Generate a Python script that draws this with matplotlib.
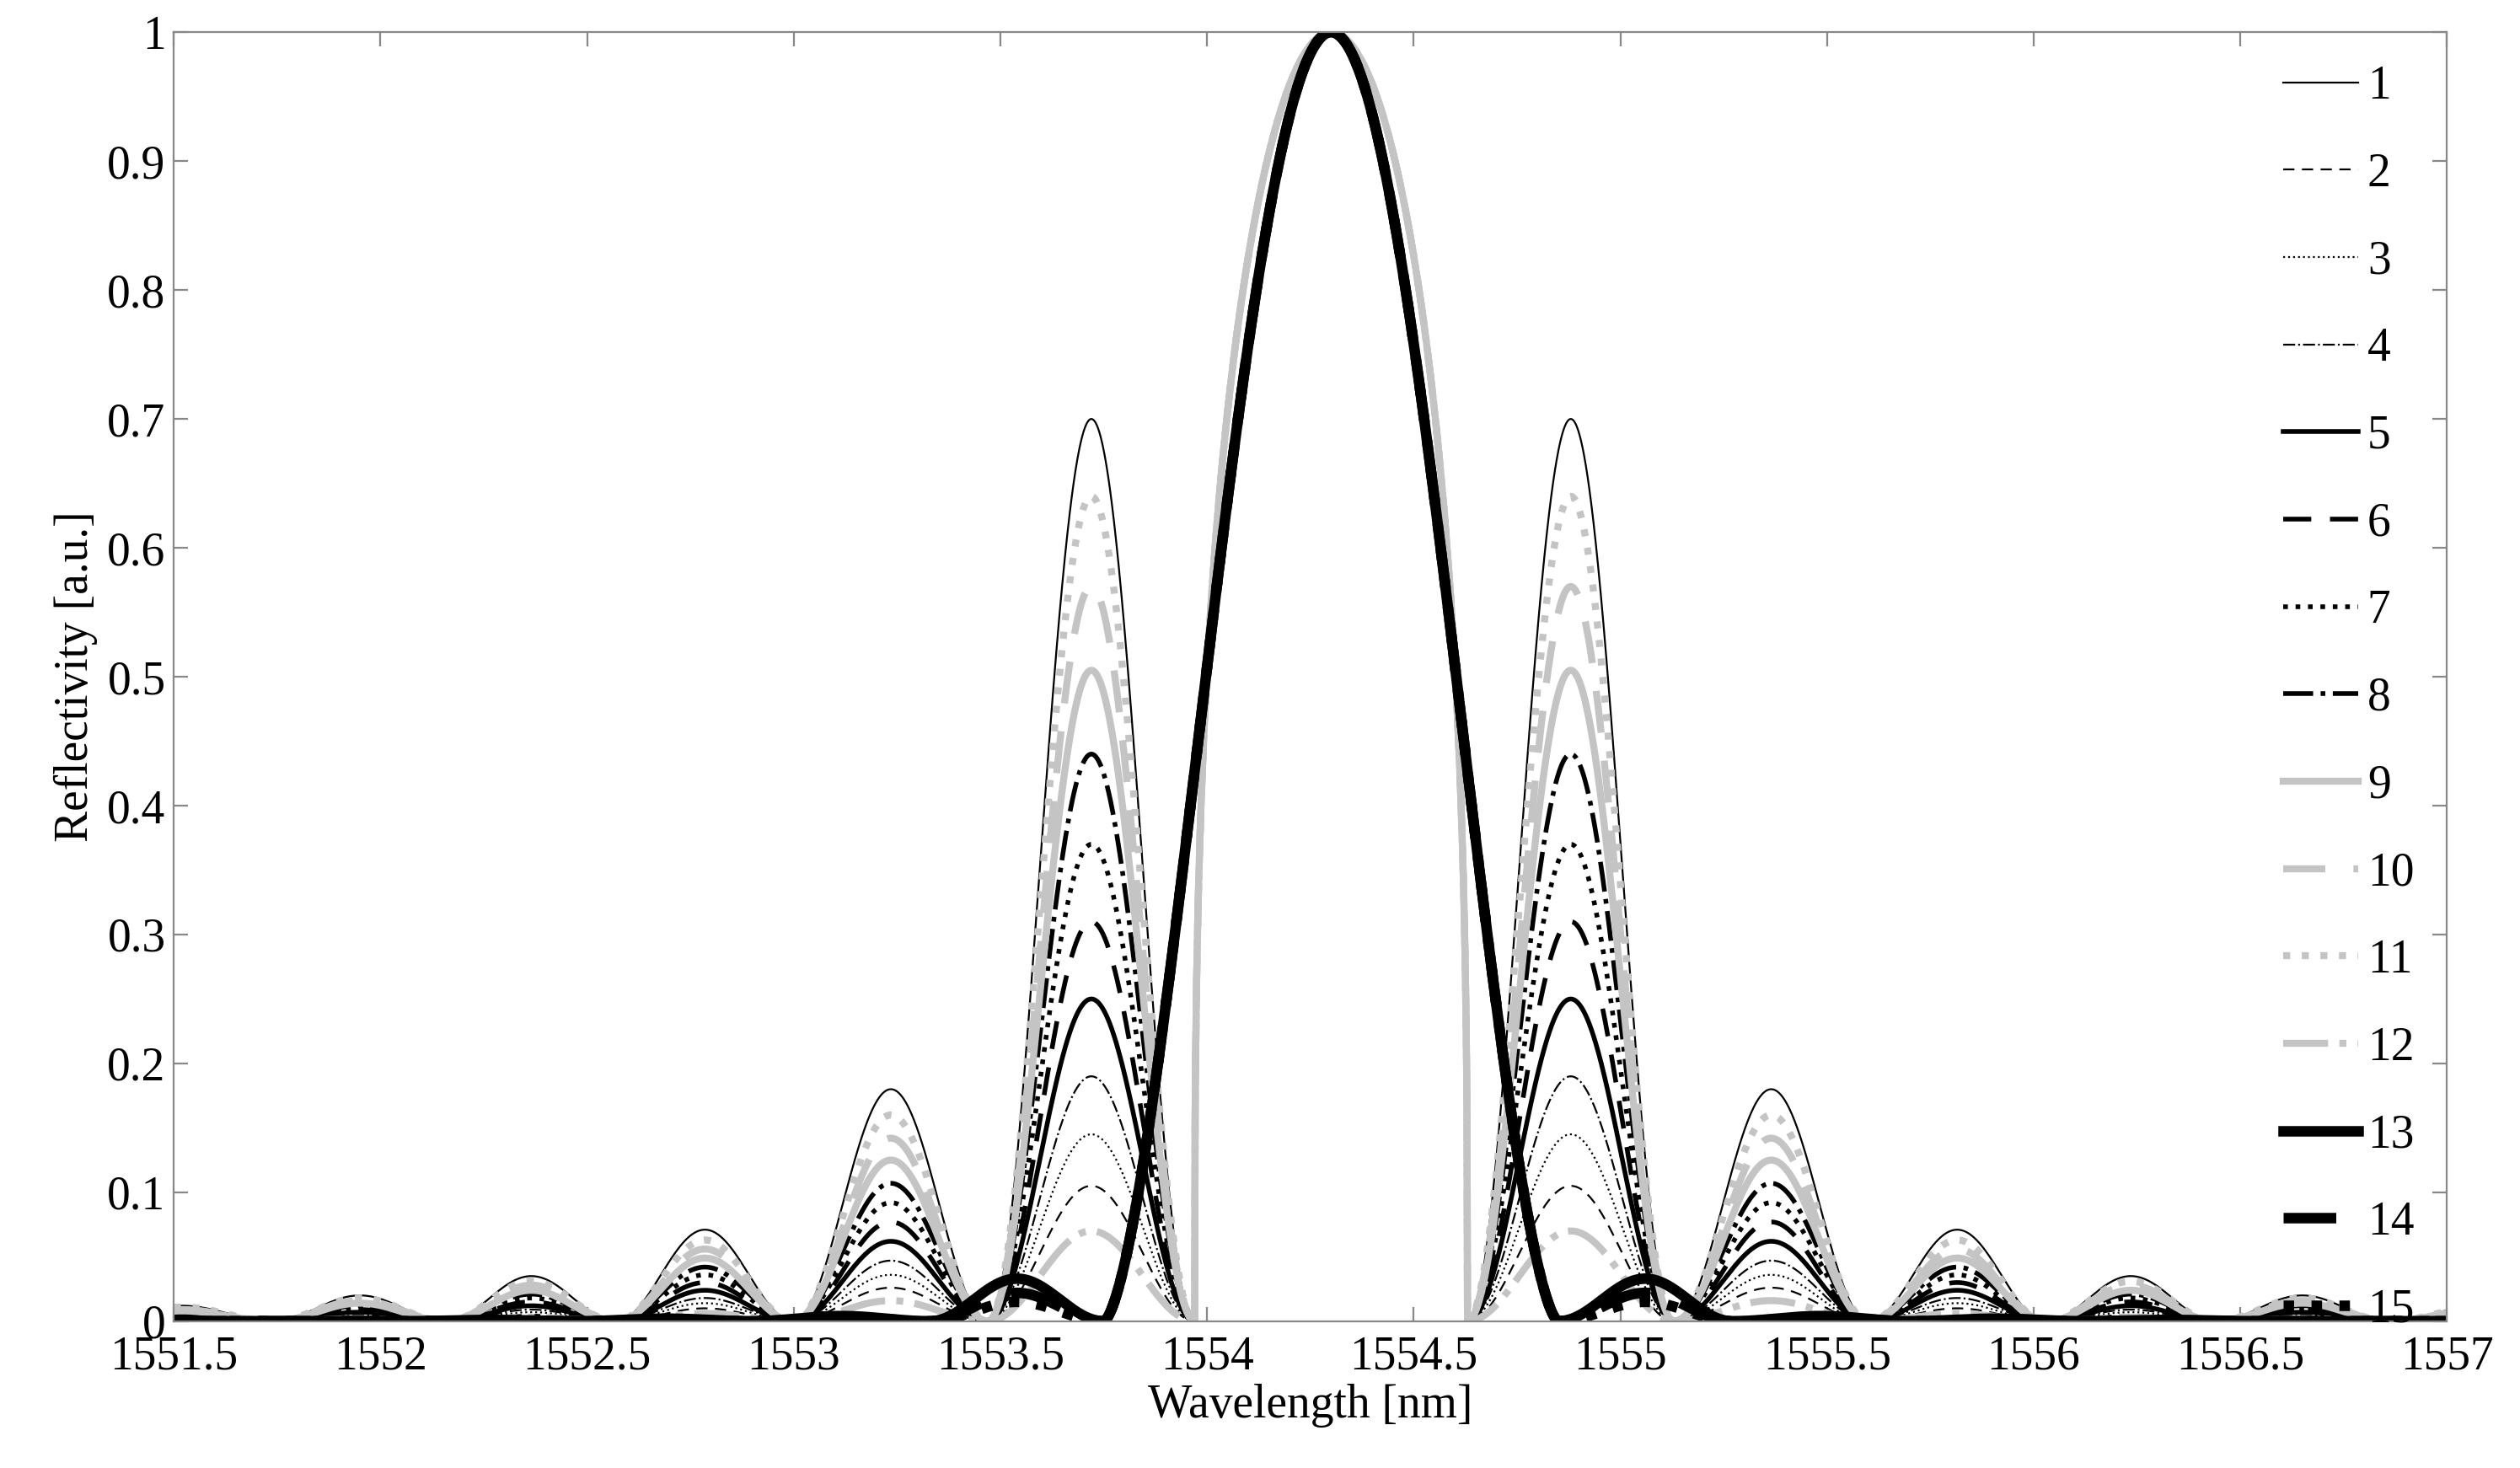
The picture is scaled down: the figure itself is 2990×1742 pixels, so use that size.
import numpy as np
import matplotlib
matplotlib.use("Agg")
import matplotlib.pyplot as plt

plt.rcParams['font.family'] = ['Liberation Serif', 'DejaVu Serif']

center = 1554.3
labels = [str(i) for i in range(1, 16)]
# null positions (left side) and sidelobe peak heights
nulls_std = [1553.97, 1553.47, 1553.00, 1552.57, 1552.16, 1551.74, 1551.30]
nulls_apod = [1553.75, 1553.33, 1552.90, 1552.48, 1552.06, 1551.64, 1551.22]
sl1 = [0.70, 0.105, 0.145, 0.19, 0.25, 0.31, 0.37, 0.44, 0.505, 0.57, 0.64, 0.07, 0.033, 0.022, 0.015]
sl2 = [0.18, 0.026, 0.036, 0.047, 0.062, 0.077, 0.092, 0.107, 0.125, 0.142, 0.160, 0.016, 0.004, 0.003, 0.002]
sl3 = [0.071, 0.010, 0.014, 0.018, 0.024, 0.030, 0.036, 0.042, 0.049, 0.056, 0.063, 0.006, 0.002, 0.001, 0.001]
sl4 = [0.035, 0.005, 0.007, 0.009, 0.012, 0.015, 0.018, 0.021, 0.024, 0.028, 0.031, 0.003, 0.001, 0.0, 0.0]
sl5 = [0.020, 0.003, 0.004, 0.005, 0.007, 0.009, 0.010, 0.012, 0.014, 0.016, 0.018, 0.002, 0.0, 0.0, 0.0]
sl6 = [0.012, 0.002, 0.002, 0.003, 0.004, 0.005, 0.006, 0.007, 0.008, 0.009, 0.011, 0.001, 0.0, 0.0, 0.0]
apodized = [False]*12 + [True]*3

gray = '#c4c4c4'
styles = [
    ('black', '-', 0.8), ('black', (0, (6, 4)), 0.8), ('black', ':', 0.8), ('black', '-.', 0.8),
    ('black', '-', 2.0), ('black', (0, (6, 4)), 2.0), ('black', ':', 2.0), ('black', '-.', 2.0),
    (gray, '-', 3.0), (gray, (0, (6, 4)), 3.0), (gray, ':', 3.0), (gray, '-.', 3.0),
    ('black', '-', 4.5), ('black', (0, (5, 3)), 4.5), ('black', ':', 4.5),
]

x = np.linspace(1551.5, 1557, 5000)

def spectrum(i):
    nl = np.array(nulls_apod if apodized[i] else nulls_std)
    heights = [sl1[i], sl2[i], sl3[i], sl4[i], sl5[i], sl6[i]]
    y = np.zeros_like(x)
    d = np.abs(x - center)
    offs = center - nl
    m = d < offs[0]
    y[m] = np.cos(0.5*np.pi*d[m]/offs[0])**(1.6 if apodized[i] else 0.35)
    for k, h in enumerate(heights):
        a, b = offs[k], offs[k+1]
        m = (d >= a) & (d < b)
        y[m] = h*np.sin(np.pi*(d[m]-a)/(b-a))**2
    return y

fig = plt.figure(figsize=(14.95, 8.71), dpi=200)
ax = fig.add_axes([0.069, 0.1, 0.902, 0.878])
handles = []
for i in range(15):
    c, ls, lw = styles[i]
    h, = ax.plot(x, spectrum(i), color=c, linestyle=ls, linewidth=lw, label=labels[i])
    handles.append(h)

ax.set_xlim(1551.5, 1557)
ax.set_ylim(0, 1)
ax.set_xticks(np.arange(1551.5, 1557.01, 0.5))
ax.set_xticklabels(['1551.5', '1552', '1552.5', '1553', '1553.5', '1554', '1554.5',
                    '1555', '1555.5', '1556', '1556.5', '1557'])
ax.set_yticks(np.arange(0, 1.01, 0.1))
ax.set_yticklabels(['0', '0.1', '0.2', '0.3', '0.4', '0.5', '0.6', '0.7', '0.8', '0.9', '1'])
ax.tick_params(direction='in', top=True, right=True, labelsize=20, length=6, color='#888888')
ax.tick_params(axis='x', pad=6)
for s in ax.spines.values():
    s.set_color('#888888')
ax.set_xlabel('Wavelength [nm]', fontsize=20, labelpad=2)
ax.set_ylabel('Reflectivity [a.u.]', fontsize=20)
ax.legend(handles=handles, loc='upper right', frameon=False, fontsize=20,
          handlelength=1.6, handletextpad=0.2, labelspacing=0.93, borderaxespad=0.3)
fig.savefig('out.png', dpi=200)
